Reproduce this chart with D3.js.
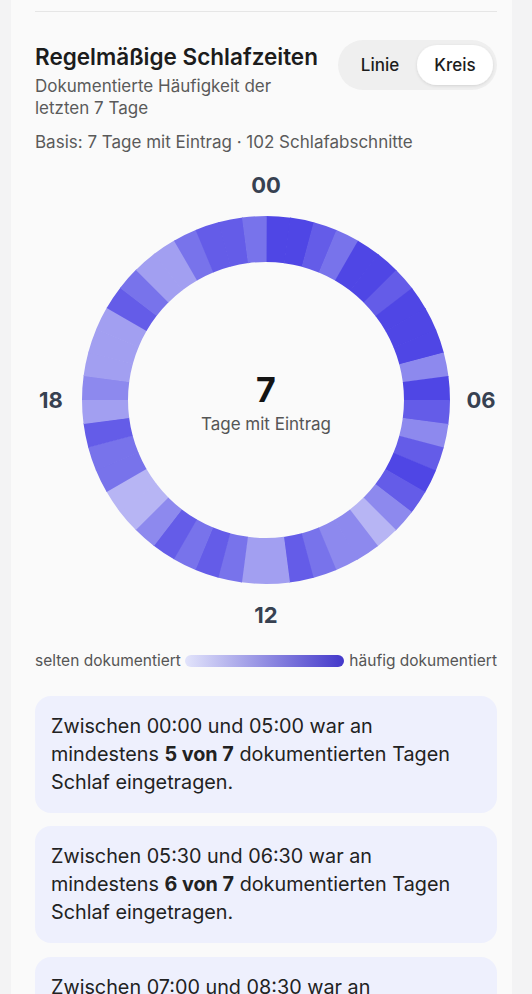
<!DOCTYPE html>
<html><head><meta charset="utf-8">
<script src="https://cdn.jsdelivr.net/npm/d3@7"></script>
<style>
html,body{margin:0;padding:0;background:#f3f3f4;}
svg{display:block;font-family:Inter,"Noto Sans",sans-serif;}
</style></head>
<body><svg id="c" width="532" height="994"></svg>
<script>
// 48 half-hour slots, value = number of documented days (of 7) with sleep in that slot
const slotValues = [7,7,6,5,7,7,6,7,7,7,4,7,6,4,6,7,6,4,2,4,4,5,6,3,3,5,6,5,6,4,2,2,5,5,6,3,4,3,3,3,6,5,3,3,5,6,6,5];
const totalDays = 7;
const hourLabels = ["00","06","12","18"];
const hourAngles = [0,6,12,18];
const legendLabels = ["selten dokumentiert","häufig dokumentiert"];
const insights = [
  {from:"00:00", to:"05:00", n:5},
  {from:"05:30", to:"06:30", n:6},
  {from:"07:00", to:"08:30", n:6}
];

const svg = d3.select("#c");
svg.append("rect").attr("x",11).attr("y",0).attr("width",501).attr("height",994).attr("fill","#fafafa");
svg.append("line").attr("x1",35).attr("x2",497).attr("y1",11.5).attr("y2",11.5).attr("stroke","#e6e6e6").attr("stroke-width",1);

// header
svg.append("text").attr("x",35).attr("y",65).attr("font-size",22.5).attr("font-weight",600).attr("fill","#1c1c1c").text("Regelmäßige Schlafzeiten");
svg.append("text").attr("x",35).attr("y",92).attr("font-size",17).attr("fill","#5a5a5a").text("Dokumentierte Häufigkeit der");
svg.append("text").attr("x",35).attr("y",114).attr("font-size",17).attr("fill","#5a5a5a").text("letzten 7 Tage");
svg.append("text").attr("x",35).attr("y",148).attr("font-size",17).attr("fill","#5a5a5a").text("Basis: 7 Tage mit Eintrag · 102 Schlafabschnitte");

// toggle
const defs = svg.append("defs");
const f = defs.append("filter").attr("id","sh").attr("x","-20%").attr("y","-30%").attr("width","140%").attr("height","160%");
f.append("feDropShadow").attr("dx",0).attr("dy",1).attr("stdDeviation",1.5).attr("flood-color","#000").attr("flood-opacity",0.12);
svg.append("rect").attr("x",338).attr("y",40).attr("width",159).attr("height",50).attr("rx",25).attr("fill","#efefef");
svg.append("rect").attr("x",417).attr("y",45).attr("width",76).attr("height",40).attr("rx",20).attr("fill","#ffffff").attr("filter","url(#sh)");
svg.append("text").attr("x",380).attr("y",71).attr("text-anchor","middle").attr("font-size",17).attr("font-weight",500).attr("fill","#1c1c1c").text("Linie");
svg.append("text").attr("x",455).attr("y",71).attr("text-anchor","middle").attr("font-size",17).attr("font-weight",500).attr("fill","#1c1c1c").text("Kreis");

// ring
const cx = 266, cy = 400, rIn = 138, rOut = 184;
const color = d3.scaleLinear().domain([0,totalDays]).range(["#e0e2fa","#4f46e5"]).interpolate(d3.interpolateRgb);
const angle = d3.scaleLinear().domain([0,slotValues.length]).range([0,2*Math.PI]);
const arc = d3.arc().innerRadius(rIn).outerRadius(rOut);
const g = svg.append("g").attr("transform",`translate(${cx},${cy})`);
g.selectAll("path").data(slotValues).join("path")
  .attr("d",(d,i)=>arc({startAngle:angle(i),endAngle:angle(i+1)+0.004}))
  .attr("fill",d=>color(d));

const hourAngle = d3.scaleLinear().domain([0,24]).range([0,2*Math.PI]);
g.selectAll("text.h").data(hourLabels).join("text").attr("class","h")
  .attr("x",(d,i)=>Math.sin(hourAngle(hourAngles[i]))*215)
  .attr("y",(d,i)=>-Math.cos(hourAngle(hourAngles[i]))*215)
  .attr("dy","0.36em").attr("text-anchor","middle")
  .attr("font-size",22).attr("font-weight",700).attr("fill","#374151").text(d=>d);

g.append("text").attr("x",0).attr("y",2).attr("text-anchor","middle").attr("font-size",34).attr("font-weight",700).attr("fill","#141414").text(totalDays);
g.append("text").attr("x",0).attr("y",30).attr("text-anchor","middle").attr("font-size",17).attr("fill","#555").text("Tage mit Eintrag");

// legend
const lg = defs.append("linearGradient").attr("id","lg");
lg.append("stop").attr("offset","0%").attr("stop-color","#e2e4fb");
lg.append("stop").attr("offset","100%").attr("stop-color","#4338ca");
svg.append("text").attr("x",35).attr("y",666).attr("font-size",15.5).attr("fill","#555").text(legendLabels[0]);
svg.append("rect").attr("x",185).attr("y",655).attr("width",159).attr("height",12).attr("rx",6).attr("fill","url(#lg)");
svg.append("text").attr("x",497).attr("y",666).attr("text-anchor","end").attr("font-size",15.5).attr("fill","#555").text(legendLabels[1]);

// insight cards
const cardY = [696, 826, 957];
insights.forEach((d,i)=>{
  const y0 = cardY[i];
  svg.append("rect").attr("x",35).attr("y",y0).attr("width",462).attr("height",117).attr("rx",16).attr("fill","#eef0fd");
  const t = svg.append("text").attr("font-size",19.8).attr("fill","#222");
  t.append("tspan").attr("x",51).attr("y",y0+37).text(`Zwischen ${d.from} und ${d.to} war an`);
  const l2 = t.append("tspan").attr("x",51).attr("y",y0+65);
  l2.text("mindestens ");
  t.append("tspan").attr("font-weight",700).text(`${d.n} von ${totalDays}`);
  t.append("tspan").text(" dokumentierten Tagen");
  t.append("tspan").attr("x",51).attr("y",y0+93).text("Schlaf eingetragen.");
});
</script></body></html>
